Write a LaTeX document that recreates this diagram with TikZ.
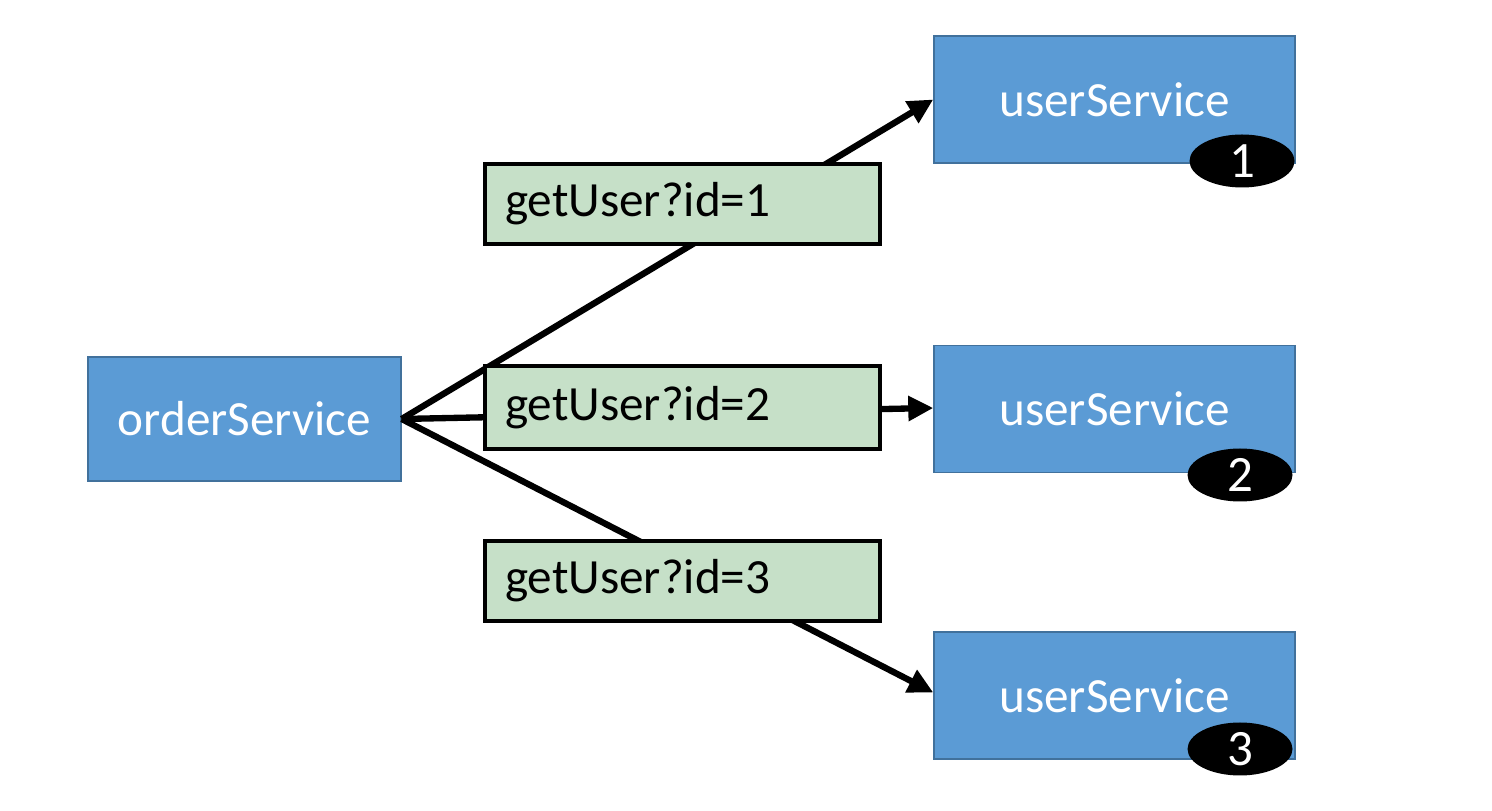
\documentclass[tikz,border=0pt]{standalone}
\usepackage{fontspec}
\setmainfont{Carlito}
\usetikzlibrary{arrows.meta,shapes.geometric}
\definecolor{svcblue}{RGB}{91,155,213}
\definecolor{svcedge}{RGB}{65,113,156}
\definecolor{reqgreen}{RGB}{198,224,200}
\begin{document}
\begin{tikzpicture}[font=\fontsize{14}{16}\selectfont,
  service/.style={draw=svcedge,fill=svcblue,text=white,minimum width=3.61cm,minimum height=1.27cm,inner sep=0pt},
  request/.style={draw=black,line width=1.3pt,fill=reqgreen,text width=3.55cm,align=left,inner xsep=0.2cm,minimum height=0.8cm},
  badge/.style={ellipse,fill=black,text=white,minimum width=1.05cm,minimum height=0.53cm,inner sep=0pt,font=\fontsize{14.5}{16}\selectfont},
  call/.style={line width=1.8pt,-{Triangle[length=2.5mm,width=2.4mm]}}]
\useasboundingbox (0,0) rectangle (14.92,8.11);
\node[service,minimum width=3.13cm,minimum height=1.24cm] (order) at (2.445,3.92) {orderService};
\node[service] (user1) at (11.145,7.115) {userService};
\node[service] (user2) at (11.145,4.02) {userService};
\node[service] (user3) at (11.145,1.155) {userService};
\node[badge] (num1) at (12.42,6.50) {1};
\node[badge] (num2) at (12.40,3.36) {2};
\node[badge] (num3) at (12.40,0.62) {3};
\draw[call] (order.east)--(user1.west);
\draw[call] (order.east)--([yshift=0.01cm]user2.west);
\draw[call] (order.east)--([yshift=0.03cm]user3.west);
\node[request] (req1) at (6.825,6.07) {getUser?id=1};
\node[request,minimum height=0.83cm] (req2) at (6.825,4.035) {getUser?id=2};
\node[request] (req3) at (6.825,2.30) {getUser?id=3};
\end{tikzpicture}
\end{document}
